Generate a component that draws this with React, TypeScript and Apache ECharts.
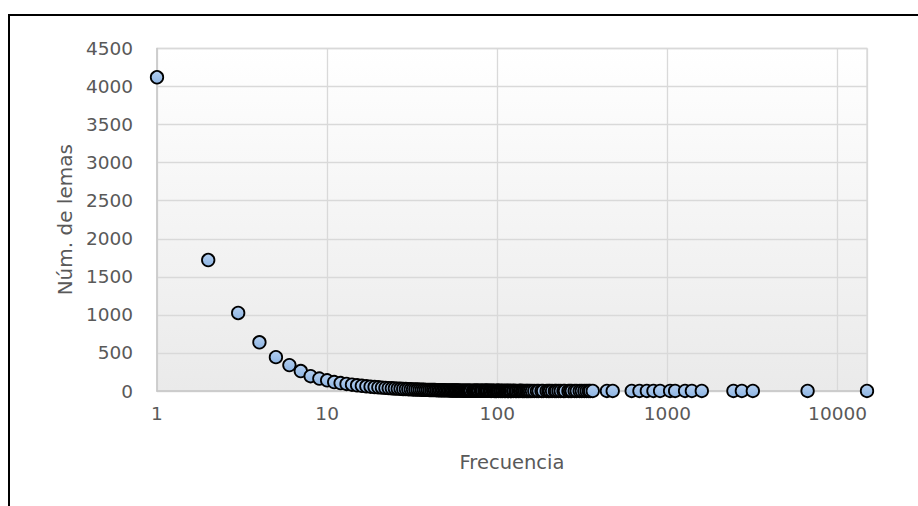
import React, { useEffect, useRef } from "react";
import * as echarts from "echarts";

// Frecuencia (x) and Núm. de lemas (y)
const frecuencias: number[] = [
  1, 2, 3, 4, 5, 6, 7, 8, 9, 10,
  11, 12, 13, 14, 15, 16, 17, 18, 19, 20,
  21, 22, 23, 24, 25, 26, 27, 28, 29, 30,
  31, 32, 33, 34, 35, 36, 37, 38, 39, 40,
  41, 42, 43, 44, 45, 46, 47, 48, 49, 50,
  51, 52, 53, 54, 55, 56, 57, 58, 59, 60,
  61, 62, 63, 64, 65, 66, 67, 68, 69, 70,
  72, 73, 74, 75, 76, 77, 78, 80, 81, 82,
  84, 85, 86, 87, 88, 90, 91, 92, 94, 95,
  96, 98, 99, 100,
  101, 102, 104, 105, 107, 108, 110, 112, 113, 115,
  116, 118, 120, 121, 124, 125, 128, 130, 133, 136,
  137, 140, 142, 145, 148, 150, 153, 156, 160, 165,
  171, 175, 182, 186, 195, 200, 204, 210, 218, 222,
  229, 236, 245, 250, 262, 268, 274, 285, 293, 305,
  314, 325, 335, 345, 352, 364,
  441, 477, 617, 685, 757, 828, 906, 1037, 1110, 1270,
  1393, 1593, 2444, 2740, 3178, 6668, 14900,
];

const numLemas: number[] = [
  4122, 1721, 1025, 640, 445, 340, 262, 195, 163, 140,
  117, 104, 93, 83, 75, 68, 62, 57, 52, 48,
  44, 41, 38, 35, 33, 31, 29, 27, 25, 24,
  22, 21, 20, 19, 18, 17, 16, 15, 15, 14,
  13, 13, 12, 11, 11, 10, 10, 9, 9, 8,
  8, 8, 7, 7, 7, 6, 6, 6, 6, 5,
  5, 5, 5, 4, 5, 4, 4, 4, 3, 4,
  3, 3, 4, 3, 3, 2, 3, 3, 2, 2,
  2, 3, 2, 2, 2, 2, 2, 1, 2, 2,
  1, 1, 1, 2,
  2, 1, 2, 1, 1, 2, 1, 1, 2, 1,
  1, 2, 1, 1, 1, 2, 1, 1, 1, 1,
  2, 1, 1, 1, 1, 1, 1, 1, 1, 1,
  1, 1, 1, 1, 1, 1, 1, 1, 1, 1,
  1, 1, 1, 1, 1, 1, 1, 1, 1, 1,
  1, 1, 1, 1, 1, 1,
  1, 1, 1, 1, 1, 1, 1, 1, 1, 1,
  1, 1, 1, 1, 1, 1, 1,
];

const yTicks: number[] = [0, 500, 1000, 1500, 2000, 2500, 3000, 3500, 4000, 4500];

const xTitle = "Frecuencia";
const yTitle = "Núm. de lemas";

export default function App() {
  const ref = useRef<HTMLDivElement>(null);

  useEffect(() => {
    if (!ref.current) return;
    const chart = echarts.init(ref.current, undefined, { renderer: "svg" });
    const data = frecuencias.map((f, i) => [f, numLemas[i]]);
    const textColor = "#595959";
    const font = "DejaVu Sans";
    const xMax = Math.max(...frecuencias);

    chart.setOption({
      animation: false,
      backgroundColor: "#ffffff",
      graphic: [
        {
          type: "rect",
          shape: { x: 9, y: 15, width: 1200, height: 1200 },
          style: { fill: "none", stroke: "#000000", lineWidth: 2 },
          silent: true,
          z: 100,
        },
      ],
      grid: {
        left: 157,
        right: 51,
        top: 48.5,
        bottom: 115,
        show: true,
        borderColor: "#d9d9d9",
        borderWidth: 1.3,
        backgroundColor: new echarts.graphic.LinearGradient(0, 0, 0, 1, [
          { offset: 0, color: "#ffffff" },
          { offset: 1, color: "#eaeaea" },
        ]),
      },
      xAxis: {
        type: "log",
        logBase: 10,
        min: 1,
        max: xMax,
        name: xTitle,
        nameLocation: "middle",
        nameGap: 61,
        nameTextStyle: { color: textColor, fontSize: 19.5, fontFamily: font },
        axisLine: { show: true, lineStyle: { color: "#c8c8c8", width: 1.5 } },
        axisTick: { show: false },
        axisLabel: {
          color: textColor,
          fontSize: 18.5,
          fontFamily: font,
          margin: 13,
          showMaxLabel: false,
          formatter: (v: number) => {
            const l = Math.log10(v);
            return Math.abs(l - Math.round(l)) < 1e-6 ? String(Math.round(v)) : "";
          },
        },
        splitLine: { show: true, lineStyle: { color: "#d9d9d9", width: 1.3 } },
      },
      yAxis: {
        type: "value",
        min: yTicks[0],
        max: yTicks[yTicks.length - 1],
        interval: yTicks[1] - yTicks[0],
        name: yTitle,
        nameLocation: "middle",
        nameGap: 82,
        nameTextStyle: { color: textColor, fontSize: 20, fontFamily: font },
        axisLine: { show: true, lineStyle: { color: "#c8c8c8", width: 1.5 } },
        axisTick: { show: false },
        axisLabel: {
          color: textColor,
          fontSize: 18.5,
          fontFamily: font,
          margin: 24,
          formatter: (v: number) => String(v),
        },
        splitLine: { show: true, lineStyle: { color: "#d9d9d9", width: 1.3 } },
      },
      series: [
        {
          type: "scatter",
          data,
          symbol: "circle",
          symbolSize: 12.5,
          itemStyle: {
            color: new echarts.graphic.LinearGradient(0, 0, 0, 1, [
              { offset: 0, color: "#b4cff0" },
              { offset: 1, color: "#8db4e2" },
            ]),
            borderColor: "#000000",
            borderWidth: 1.8,
            opacity: 1,
          },
          emphasis: { disabled: true },
        },
      ],
    });

    return () => chart.dispose();
  }, []);

  return (
    <div
      ref={ref}
      style={{ position: "fixed", left: 0, top: 0, width: 918, height: 506 }}
    />
  );
}
